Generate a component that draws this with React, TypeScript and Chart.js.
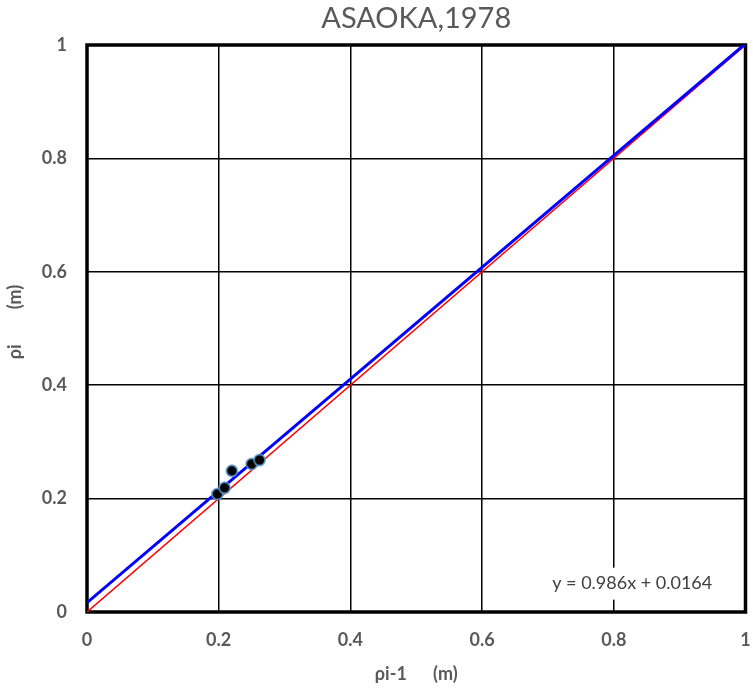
import React, { useEffect, useRef } from "react";
import { Chart, registerables } from "chart.js";

Chart.register(...registerables);

const chartTitle = "ASAOKA,1978";
const xAxisTitle = "ρi-1      (m)";
const yAxisTitle = "   ρi        (m)";
const tickValues = [0, 0.2, 0.4, 0.6, 0.8, 1];
const tickLabels = ["0", "0.2", "0.4", "0.6", "0.8", "1"];
const pointX = [0.198, 0.209, 0.22, 0.25, 0.262];
const pointY = [0.208, 0.219, 0.249, 0.261, 0.268];
const trendSlope = 0.986;
const trendIntercept = 0.0164;
const lineX = [0, 1];
const equationText = "y = 0.986x + 0.0164";

const GREY = "#595959";
const FONT = "Lato, 'Open Sans', sans-serif";

export default function App() {
  const ref = useRef<HTMLCanvasElement | null>(null);

  useEffect(() => {
    const canvas = ref.current;
    if (!canvas) return;

    const decor = {
      id: "decor",
      beforeDatasetsDraw(chart: any) {
        const { ctx, chartArea } = chart;
        ctx.save();
        ctx.strokeStyle = "#000";
        ctx.lineWidth = 3.5;
        ctx.strokeRect(chartArea.left, chartArea.top, chartArea.right - chartArea.left, chartArea.bottom - chartArea.top);
        ctx.restore();
      },
      afterDatasetsDraw(chart: any) {
        const { ctx, chartArea } = chart;
        ctx.save();
        ctx.fillStyle = GREY;
        ctx.font = `29px ${FONT}`;
        ctx.textAlign = "center";
        ctx.textBaseline = "middle";
        ctx.fillText(chartTitle, (chartArea.left + chartArea.right) / 2, 19);
        const xs = chart.scales.x;
        const ys = chart.scales.y;
        const cx = xs.getPixelForValue(0.828);
        const cy = ys.getPixelForValue(0.05);
        ctx.font = `18px ${FONT}`;
        const w = ctx.measureText(equationText).width;
        ctx.fillStyle = "#fff";
        ctx.fillRect(cx - w / 2 - 8, cy - 16, w + 16, 32);
        ctx.fillStyle = "#404040";
        ctx.fillText(equationText, cx, cy);
        ctx.restore();
      },
    };

    const tickFont = { family: FONT, size: 18, weight: "bold" };

    const chart = new Chart(canvas, {
      type: "scatter",
      data: {
        datasets: [
          {
            label: "data",
            data: pointX.map((x, i) => ({ x, y: pointY[i] })),
            backgroundColor: "#000",
            borderColor: "rgba(91,155,213,0.75)",
            borderWidth: 2,
            pointRadius: 5.5,
          },
          {
            label: "trend",
            data: lineX.map((x) => ({ x, y: trendSlope * x + trendIntercept })),
            showLine: true,
            borderColor: "#0000FF",
            borderWidth: 3,
            pointRadius: 0,
          },
          {
            label: "y=x",
            data: lineX.map((x) => ({ x, y: x })),
            showLine: true,
            borderColor: "#FF0000",
            borderWidth: 1.5,
            pointRadius: 0,
          },
        ],
      },
      options: {
        animation: false,
        responsive: false,
        layout: { padding: { top: 45, right: 7, left: 0, bottom: 0 } },
        plugins: { legend: { display: false }, tooltip: { enabled: false }, title: { display: false } },
        scales: {
          x: {
            type: "linear",
            min: 0,
            max: 1,
            afterBuildTicks: (s: any) => {
              s.ticks = tickValues.map((v) => ({ value: v }));
            },
            afterFit: (s: any) => {
              s.height = 79;
              s.paddingRight = 0;
              s.paddingLeft = 0;
            },
            ticks: {
              callback: (v: any) => tickLabels[tickValues.indexOf(Number(v))] ?? "",
              color: GREY,
              font: tickFont,
              padding: 17,
              maxRotation: 0,
            },
            grid: { color: "#000", lineWidth: 1.5, drawTicks: false },
            border: { display: false },
            title: {
              display: true,
              text: xAxisTitle,
              color: GREY,
              font: tickFont,
              padding: { top: 0, bottom: 6 },
            },
          },
          y: {
            type: "linear",
            min: 0,
            max: 1,
            afterBuildTicks: (s: any) => {
              s.ticks = tickValues.map((v) => ({ value: v }));
            },
            afterFit: (s: any) => {
              s.width = 87;
              s.paddingTop = 0;
              s.paddingBottom = 0;
            },
            ticks: {
              callback: (v: any) => tickLabels[tickValues.indexOf(Number(v))] ?? "",
              color: GREY,
              font: tickFont,
              padding: 20,
            },
            grid: { color: "#000", lineWidth: 1.5, drawTicks: false },
            border: { display: false },
            title: {
              display: true,
              text: yAxisTitle,
              color: GREY,
              font: tickFont,
              padding: { top: 4, bottom: 0 },
            },
          },
        },
      },
      plugins: [decor],
    } as any);

    return () => chart.destroy();
  }, []);

  return (
    <div style={{ position: "fixed", left: 0, top: 0, width: 753, height: 691, background: "#fff" }}>
      <canvas ref={ref} width={753} height={691} style={{ display: "block" }} />
    </div>
  );
}
